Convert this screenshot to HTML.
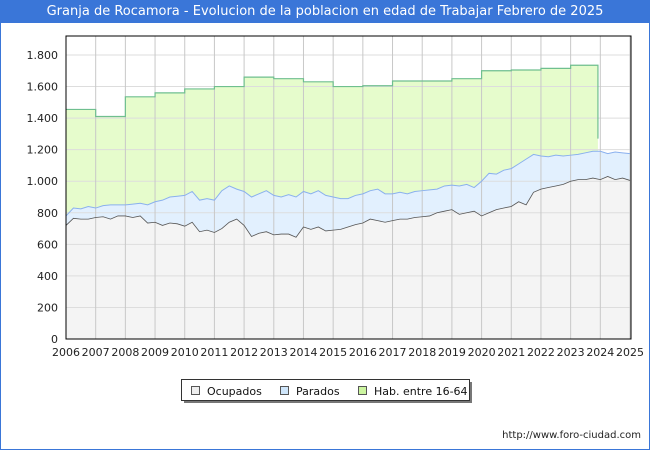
<!DOCTYPE html>
<html><head><meta charset="utf-8"><style>
body{margin:0;background:#fff;font-family:"DejaVu Sans","Liberation Sans",sans-serif;}
#wrap{position:relative;width:648px;height:448px;border:1px solid #3a76d8;overflow:hidden;}
#title{position:absolute;left:0;top:0;width:648px;height:22px;background:#3a76d8;color:#fff;font-size:13px;line-height:22px;text-align:center;}
</style></head><body>
<div id="wrap">
<div id="title">Granja de Rocamora - Evolucion de la poblacion en edad de Trabajar Febrero de 2025</div>
<svg id="svg" width="648" height="448" style="position:absolute;left:0;top:0"></svg>
</div>
<script>
const yearTicks=[2006,2007,2008,2009,2010,2011,2012,2013,2014,2015,2016,2017,2018,2019,2020,2021,2022,2023,2024,2025];
const yTicks=[0,200,400,600,800,1000,1200,1400,1600,1800];
const yTickLabels=["0","200","400","600","800","1.000","1.200","1.400","1.600","1.800"];
const habYears=[2006,2007,2008,2009,2010,2011,2012,2013,2014,2015,2016,2017,2018,2019,2020,2021,2022,2023];
const habValues=[1455,1410,1535,1560,1585,1600,1660,1650,1630,1600,1605,1635,1635,1650,1700,1705,1715,1735];
const habEnd=2023.92, habEndValue=1270;
const ocupados=[720,765,760,760,770,775,760,780,780,770,780,735,740,720,735,730,715,740,680,690,675,700,740,760,720,650,670,680,660,665,665,645,710,695,710,685,690,695,710,725,735,760,750,740,750,760,760,770,775,780,800,810,820,790,800,810,780,800,820,830,840,870,850,930,950,960,970,980,1000,1010,1010,1020,1010,1030,1010,1020,1005];
const activos=[780,830,825,840,830,845,850,850,850,855,860,850,870,880,900,905,910,935,880,890,880,940,970,950,935,900,920,940,910,900,915,900,935,920,940,910,900,890,890,910,920,940,950,920,920,930,920,935,940,945,950,970,975,970,980,960,1000,1050,1045,1070,1080,1110,1140,1170,1160,1155,1165,1160,1165,1170,1180,1190,1190,1175,1185,1180,1175];
const X0=65,X1=629,Y0=338,Y1=54;
const xs=t=>X0+(t-2006)/19*(X1-X0);
const ys=v=>Y0-v/1800*(Y0-Y1);
const svg=document.getElementById('svg');
const NS='http://www.w3.org/2000/svg';
function mk(tag,attrs,parent){const e=document.createElementNS(NS,tag);for(const k in attrs)e.setAttribute(k,attrs[k]);(parent||svg).appendChild(e);return e;}
let e=mk('rect',{x:X0,y:35,width:X1-X0+1,height:Y0-35,fill:'#fff'});

// hab area
let hp=[];habYears.forEach((y,i)=>{hp.push([xs(y),ys(habValues[i])]);hp.push([xs(i<habYears.length-1?habYears[i+1]:habEnd),ys(habValues[i])]);});
hp.push([xs(habEnd),ys(habEndValue)]);
const tq=i=>2006+i*0.25;
e=mk('path',{d:'M'+hp.map(p=>p.join(',')).join(' L')+' L'+xs(habEnd)+','+Y0+' L'+X0+','+Y0+'Z',fill:'#e6fccc',stroke:'none'});

const ap=activos.map((v,i)=>[xs(tq(i)),ys(v)]);
const op=ocupados.map((v,i)=>[xs(tq(i)),ys(v)]);
e=mk('path',{d:'M'+ap.map(p=>p.join(',')).join(' L')+' L'+xs(2025)+','+Y0+' L'+X0+','+Y0+'Z',fill:'#e2f0fe'});

e=mk('path',{d:'M'+op.map(p=>p.join(',')).join(' L')+' L'+xs(2025)+','+Y0+' L'+X0+','+Y0+'Z',fill:'#f4f4f4'});

// grid
yTicks.forEach((v,i)=>{
 let g=mk('line',{x1:X0,x2:X1,y1:ys(v),y2:ys(v),stroke:'#ddd','stroke-width':1});
 
 let t=mk('text',{x:57,y:ys(v)+4,'text-anchor':'end','font-size':11,fill:'#222'});t.textContent=yTickLabels[i];
 
});
yearTicks.forEach(y=>{
 let g=mk('line',{x1:xs(y),x2:xs(y),y1:35,y2:Y0,stroke:'#c8c8c8','stroke-width':1});
 
 let t=mk('text',{x:xs(y),y:355,'text-anchor':'middle','font-size':11,fill:'#222'});t.textContent=y;
 
});
e=mk('polyline',{points:hp.map(p=>p.join(',')).join(' '),fill:'none',stroke:'#6fbf8f','stroke-width':1.2});

e=mk('polyline',{points:ap.map(p=>p.join(',')).join(' '),fill:'none',stroke:'#8ab0ee','stroke-width':1});

e=mk('polyline',{points:op.map(p=>p.join(',')).join(' '),fill:'none',stroke:'#555','stroke-width':0.8});

e=mk('rect',{x:X0,y:35,width:X1-X0+1,height:Y0-35,fill:'none',stroke:'#000','stroke-width':1});

// legend
e=mk('rect',{x:183,y:381,width:288,height:21,fill:'#777'});

e=mk('rect',{x:180.5,y:378.5,width:288,height:21,fill:'#fff',stroke:'#333'});

const leg=[["Ocupados","#eeeeee",190],["Parados","#cfe6fb",279],["Hab. entre 16-64","#ccf5a0",357]];
leg.forEach(l=>{
 let r=mk('rect',{x:l[2]+0.5,y:385.5,width:8,height:8,fill:l[1],stroke:'#555'});
 
 let t=mk('text',{x:l[2]+16,y:394,'font-size':11,fill:'#111'});t.textContent=l[0];
 
});
e=mk('text',{x:640,y:437,'text-anchor':'end','font-size':10,fill:'#222'});e.textContent='http://www.foro-ciudad.com';

</script>
</body></html>
